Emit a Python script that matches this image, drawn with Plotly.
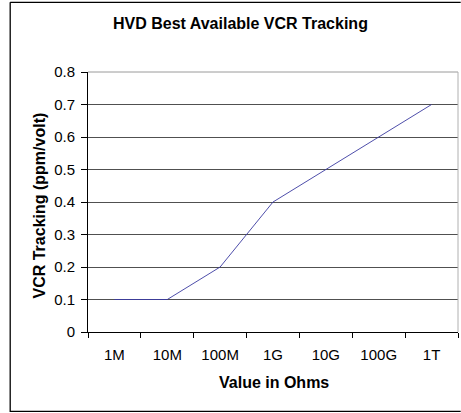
import plotly.graph_objects as go

categories = ["1M", "10M", "100M", "1G", "10G", "100G", "1T"]
vcr_tracking = [0.1, 0.1, 0.2, 0.4, 0.5, 0.6, 0.7]
y_ticks = [0, 0.1, 0.2, 0.3, 0.4, 0.5, 0.6, 0.7, 0.8]
y_tick_text = ["0", "0.1", "0.2", "0.3", "0.4", "0.5", "0.6", "0.7", "0.8"]

W, H = 461, 413
L, R, T, B = 88.3, 458.3, 71.7, 331.7
FONT = "Liberation Sans, Arial, sans-serif"

def px(x):
    return (x - L) / (R - L)

def py(y):
    return (B - y) / (B - T)

fig = go.Figure()
fig.add_trace(go.Scatter(
    x=categories, y=vcr_tracking, mode="lines",
    line=dict(color="#3a3aa0", width=0.9), hoverinfo="x+y", showlegend=False,
))

fig.update_layout(
    width=W, height=H,
    margin=dict(l=L, r=W - R, t=T, b=H - B, pad=0),
    paper_bgcolor="white", plot_bgcolor="white",
    font=dict(family=FONT, color="black"),
    showlegend=False,
    xaxis=dict(
        type="category", range=[-0.5, 6.5], tickson="boundaries",
        ticks="outside", ticklen=5, tickcolor="black", tickwidth=1,
        showline=True, linecolor="black", linewidth=1,
        showgrid=False, zeroline=False,
        tickfont=dict(size=15, family=FONT),
        ticklabelstandoff=9,
        fixedrange=True,
    ),
    yaxis=dict(
        range=[0, 0.8], tickvals=y_ticks, ticktext=y_tick_text,
        ticks="outside", ticklen=6, tickcolor="black", tickwidth=1,
        showline=True, linecolor="black", linewidth=1,
        showgrid=True, gridcolor="#505050", gridwidth=1,
        zeroline=False,
        tickfont=dict(size=15, family=FONT),
        ticklabelstandoff=3,
        fixedrange=True,
    ),
    shapes=[
        dict(type="line", xref="paper", yref="paper", x0=0, x1=1, y0=1, y1=1,
             line=dict(color="#9a9a9a", width=1), layer="above"),
        dict(type="line", xref="paper", yref="paper", x0=1, x1=1, y0=0, y1=1,
             line=dict(color="#b0b0b0", width=1), layer="above"),
        dict(type="path", xref="paper", yref="paper",
             path="M {a},{b} L {c},{b} M {c},{d} L {a},{d} L {a},{b}".format(
                 a=px(10.5), b=py(2), c=px(461), d=py(411)),
             line=dict(color="black", width=1.3)),
    ],
    annotations=[
        dict(text="<b>HVD Best Available VCR Tracking</b>", xref="paper", yref="paper",
             x=px(240.5), y=py(23.3), xanchor="center", yanchor="middle",
             showarrow=False, font=dict(size=16, family=FONT)),
        dict(text="<b>VCR Tracking (ppm/volt)</b>", xref="paper", yref="paper",
             x=px(39.5), y=py(205), xanchor="center", yanchor="middle", textangle=-90,
             showarrow=False, font=dict(size=16, family=FONT)),
        dict(text="<b>Value in Ohms</b>", xref="paper", yref="paper",
             x=px(274.7), y=py(381.7), xanchor="center", yanchor="middle",
             showarrow=False, font=dict(size=16, family=FONT)),
    ],
)

fig.write_html(
    "out.html",
    config=dict(displayModeBar=False),
    post_script="document.body.style.margin='0';document.body.style.overflow='hidden';",
)
